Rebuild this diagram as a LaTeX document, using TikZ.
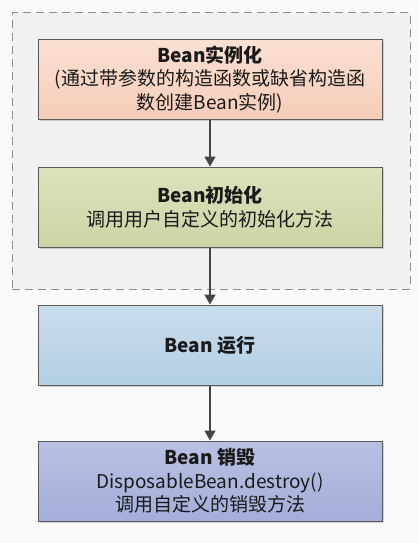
\documentclass[tikz,border=0pt]{standalone}
\usepackage{fontspec}
\setmainfont{Noto Sans CJK SC}
\usetikzlibrary{arrows.meta,shadows}
\definecolor{bgc}{HTML}{FAFAFA}
\definecolor{grpc}{HTML}{F1F1F1}
\definecolor{dashc}{HTML}{8E8E8E}
\definecolor{edgec}{HTML}{5A5A5A}
\definecolor{arrc}{HTML}{444444}
\definecolor{txtc}{HTML}{1A1A1A}
\definecolor{c1t}{HTML}{FBE0D2}\definecolor{c1b}{HTML}{F5CDB9}
\definecolor{c2t}{HTML}{DCE2BC}\definecolor{c2b}{HTML}{CDD5A6}
\definecolor{c3t}{HTML}{C9DDEC}\definecolor{c3b}{HTML}{B3CFE4}
\definecolor{c4t}{HTML}{B9C0E4}\definecolor{c4b}{HTML}{A4AED9}
\tikzset{
  stagebox/.style={draw=edgec, line width=1pt, minimum width=344pt, minimum height=80pt,
    align=center, text=txtc, font=\fontsize{19}{23.5}\selectfont, inner sep=0pt,
    drop shadow={shadow xshift=1.5pt, shadow yshift=-1.5pt, fill=black, opacity=0.15}},
  flowarrow/.style={draw=arrc, line width=1.6pt, -{Triangle[length=10pt,width=11pt]}},
}
\begin{document}
\begin{tikzpicture}[x=1pt,y=-1pt]
\fill[bgc] (0,0) rectangle (419,543);
\useasboundingbox (0,0) rectangle (419,543);
\node[draw=dashc, fill=grpc, line width=1pt, dash pattern=on 8pt off 5pt,
  minimum width=398pt, minimum height=276pt, inner sep=0pt] (grp) at (211,151) {};
\node[stagebox, top color=c1t, bottom color=c1b] (inst) at (210,79.5)
  {\textbf{Bean实例化}\\(通过带参数的构造函数或缺省构造函\\数创建Bean实例)};
\node[stagebox, top color=c2t, bottom color=c2b] (init) at (210,207)
  {\textbf{Bean初始化}\\调用用户自定义的初始化方法};
\node[stagebox, top color=c3t, bottom color=c3b] (run) at (210,345)
  {\textbf{Bean 运行}};
\node[stagebox, top color=c4t, bottom color=c4b] (dest) at (210,481)
  {\textbf{Bean 销毁}\\DisposableBean.destroy()\\调用自定义的销毁方法};
\draw[flowarrow] (inst) -- (init);
\draw[flowarrow] (init) -- (run);
\draw[flowarrow] (run) -- (dest);
\end{tikzpicture}
\end{document}
